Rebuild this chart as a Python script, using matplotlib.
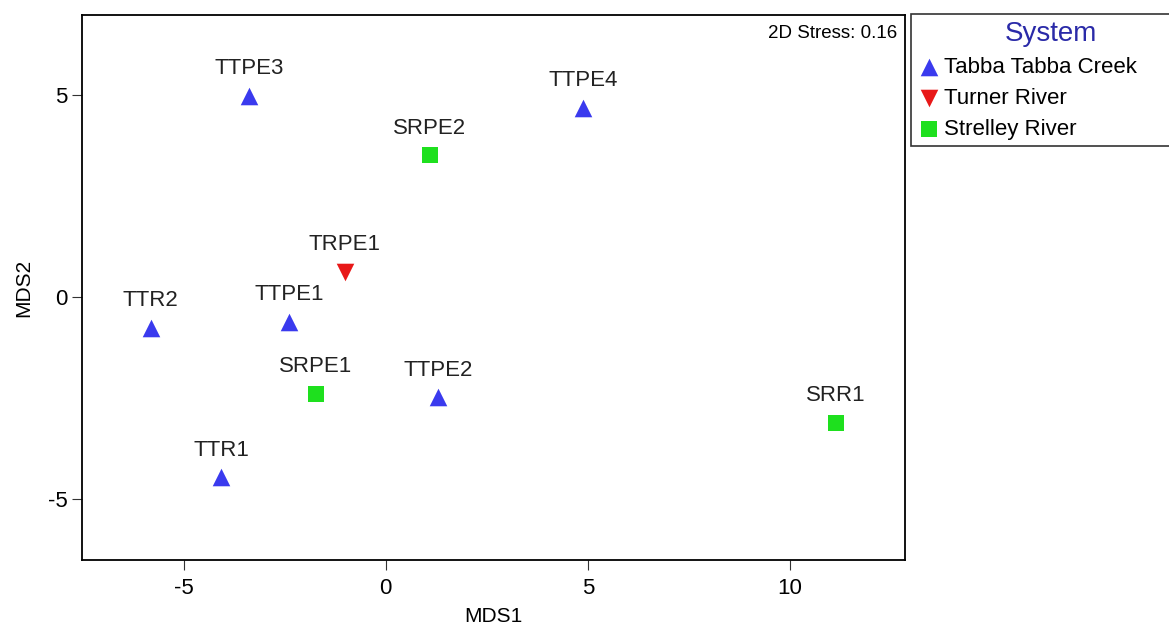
import matplotlib.pyplot as plt

# sample names, coordinates and system
names = ['TTPE3', 'TTPE4', 'SRPE2', 'TRPE1', 'TTR2', 'TTPE1', 'SRPE1', 'TTPE2', 'TTR1', 'SRR1']
mds1 = [-3.39, 4.88, 1.09, -1.01, -5.82, -2.40, -1.73, 1.29, -4.08, 11.14]
mds2 = [4.98, 4.68, 3.51, 0.62, -0.77, -0.62, -2.40, -2.48, -4.46, -3.12]
system = ['Tabba Tabba Creek', 'Tabba Tabba Creek', 'Strelley River', 'Turner River',
          'Tabba Tabba Creek', 'Tabba Tabba Creek', 'Strelley River', 'Tabba Tabba Creek',
          'Tabba Tabba Creek', 'Strelley River']

systems = ['Tabba Tabba Creek', 'Turner River', 'Strelley River']
markers = ['^', 'v', 's']
colors = ['#3a3aee', '#e81818', '#1ee01e']
sizes = [160, 160, 120]

plt.rcParams['font.family'] = ['Liberation Sans', 'DejaVu Sans']
plt.rcParams['axes.unicode_minus'] = False

fig = plt.figure(figsize=(11.69, 6.26), dpi=100)
ax = fig.add_axes([0.0701, 0.1054, 0.7041, 0.8706])

for s, m, c, sz in zip(systems, markers, colors, sizes):
    xs = [x for x, g in zip(mds1, system) if g == s]
    ys = [y for y, g in zip(mds2, system) if g == s]
    ax.scatter(xs, ys, marker=m, color=c, s=sz, linewidths=0, label=s, zorder=3)

# labels sit above each point
for n, x, y in zip(names, mds1, mds2):
    ax.annotate(n, (x, y), xytext=(0, 12), textcoords='offset points',
                ha='center', va='bottom', fontsize=16, color='#222222')

ax.set_xlim(-7.52, 12.85)
ax.set_ylim(-6.51, 6.98)
ax.set_xticks([-5, 0, 5, 10])
ax.set_yticks([-5, 0, 5])
ax.tick_params(labelsize=16, length=7, color='#333333')
ax.tick_params(axis='x', pad=6)
for sp in ax.spines.values():
    sp.set_linewidth(1.3)
ax.set_xlabel('MDS1', fontsize=15, labelpad=6)
ax.set_ylabel('MDS2', fontsize=15, labelpad=10)

ax.text(0.99, 0.982, '2D Stress: 0.16', transform=ax.transAxes,
        ha='right', va='top', fontsize=13.5)

leg = fig.legend(loc='upper left', mode='expand',
                 bbox_to_anchor=(911 / 1169, 1 - 143 / 626, 0.24, 129 / 626),
                 title='System', fontsize=16, title_fontsize=20, frameon=True,
                 fancybox=False, edgecolor='black', handletextpad=0.2,
                 borderpad=0.3, labelspacing=0.45, handlelength=1.0,
                 borderaxespad=0, markerscale=1.0)
leg.get_title().set_color('#2a2aa8')
leg.get_frame().set_linewidth(1.2)

fig.savefig('out.png', dpi=100)
